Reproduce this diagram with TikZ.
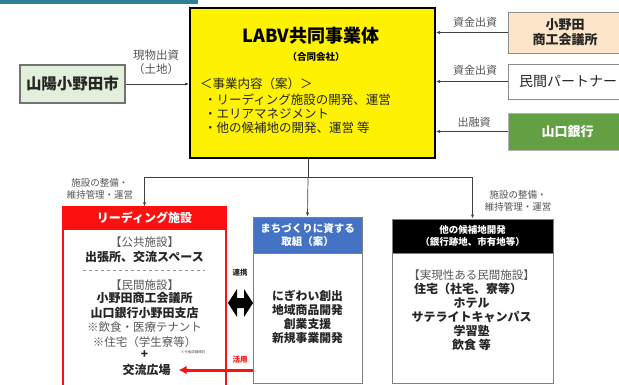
\documentclass[tikz,border=0pt]{standalone}
\usepackage{fontspec}
\setmainfont{Noto Sans CJK JP}
\usetikzlibrary{arrows.meta}
\definecolor{teal1}{HTML}{2E8097}
\definecolor{peach}{HTML}{FCE5C8}
\definecolor{bankgreen}{HTML}{62A043}
\definecolor{lgreen}{HTML}{E2EFDA}
\definecolor{hblue}{HTML}{4472C4}
\definecolor{hred}{HTML}{FF1010}
\definecolor{txt}{HTML}{262626}
\definecolor{lbltxt}{HTML}{555555}
\tikzset{
  box/.style={draw, rectangle, inner sep=0pt, align=center},
  conn/.style={draw=black!75, line width=0.7pt, -{Latex[length=4pt,width=3.2pt]}},
  lbl/.style={font=\fontsize{9.5}{12}\selectfont, text=lbltxt, align=center, inner sep=0pt},
  lblb/.style={font=\fontsize{11}{14}\selectfont, text=lbltxt, align=center, inner sep=0pt},
  tx/.style={inner sep=1pt, text=txt, align=center},
  bx/.style={tx, font=\fontsize{12}{14}\bfseries\selectfont},
  rg/.style={tx, font=\fontsize{11.5}{14}\selectfont, text=black!65},
}
\begin{document}
\begin{tikzpicture}[x=1pt,y=-1pt]
\useasboundingbox (0,0) rectangle (619,384);
\clip (0,0) rectangle (619,384);
\fill[white] (0,0) rectangle (619,384);
% top bar
\fill[teal1] (0,0) rectangle (198,4);

% main yellow box
\node[box, fill=yellow, line width=2pt, minimum width=245pt, minimum height=150pt] (labv) at (312.5,83) {};
\node[tx, font=\fontsize{18}{20}\bfseries\selectfont, text=black] (labvt) at (311,36) {LABV共同事業体};
\node[tx, font=\fontsize{9.5}{11}\bfseries\selectfont, text=black] (labvs) at (316,57) {（合同会社）};
\node[tx, anchor=west, font=\fontsize{12.5}{14}\selectfont] (labvh) at (199,84) {＜事業内容（案）＞};
\node[tx, anchor=north west, align=left, font=\fontsize{12.5}{14}\selectfont] (labvb) at (203,93) {・リーディング施設の開発、運営\\・エリアマネジメント\\・他の候補地の開発、運営 等};

% left city box
\node[box, fill=lgreen, draw=black!55, line width=1.2pt, minimum width=105pt, minimum height=38pt,
      font=\fontsize{15.5}{17}\bfseries\selectfont, text=txt] (city) at (72.5,84) {山陽小野田市};
\draw[conn] (city.east) -- (city.east -| labv.west);
\node[lblb, font=\fontsize{11.5}{14.5}\selectfont] (l1) at (156,62) {現物出資\\（土地）};

% right boxes
\node[box, fill=peach, draw=black!45, line width=1pt, minimum width=114pt, minimum height=41pt,
      font=\fontsize{13}{15}\bfseries\selectfont, text=txt] (cci) at (565,32.5) {小野田\\商工会議所};
\node[box, fill=white, draw=black!45, line width=1pt, minimum width=120pt, minimum height=35pt,
      font=\fontsize{14}{16}\selectfont, text=txt] (partner) at (568,81.5) {民間パートナー};
\node[box, fill=bankgreen, draw=black!30, line width=1pt, minimum width=119pt, minimum height=37pt,
      font=\fontsize{13}{15}\bfseries\selectfont, text=white] (bank) at (567.5,131.5) {山口銀行};
\draw[conn] (cci.west) -- (cci.west -| labv.east);
\draw[conn] (partner.west) -- (partner.west -| labv.east);
\draw[conn] (bank.west) -- (bank.west -| labv.east);
\node[lblb] (l2) at (475,22) {資金出資};
\node[lblb] (l3) at (475,70) {資金出資};
\node[lblb] (l4) at (474,122) {出融資};

% lower boxes
\node[box, draw=hred, line width=1.3pt, minimum width=163pt, minimum height=200pt] (lead) at (144.5,307) {};
\node[box, fill=hred, draw=hred, line width=1.3pt, minimum width=163pt, minimum height=22pt,
      font=\fontsize{12}{14}\bfseries\selectfont, text=white, anchor=north] (leadh) at (lead.north) {リーディング施設};

\node[box, draw=black!50, line width=1pt, minimum width=109pt, minimum height=166pt] (machi) at (307.5,300) {};
\node[box, fill=hblue, draw=black!50, line width=1pt, minimum width=109pt, minimum height=36pt,
      font=\fontsize{10.5}{12.5}\bfseries\selectfont, text=white, anchor=north] (machih) at (machi.north) {まちづくりに資する\\取組（案）};

\node[box, draw=black!50, line width=1pt, minimum width=161pt, minimum height=164pt] (other) at (472.5,301) {};
\node[box, fill=black, draw=black!50, line width=1pt, minimum width=161pt, minimum height=34pt,
      font=\fontsize{9.5}{12}\bfseries\selectfont, text=white, anchor=north] (otherh) at (other.north) {他の候補地開発\\（銀行跡地、市有地等）};

% tree connectors
\coordinate (j) at (308,177);
\draw[draw=black!75, line width=0.7pt] (labv.south -| j) -- (j);
\draw[conn] (j) -- (machi.north);
\draw[conn] (j) -| (lead.north);
\draw[conn] (j) -| (other.north);
\node[lbl] (l5) at (100,189) {施設の整備・\\維持管理・運営};
\node[lbl] (l6) at (518,201) {施設の整備・\\維持管理・運営};

% lead contents
\node[rg] (a1) at (144.5,242) {【公共施設】};
\node[bx] (a2) at (144.5,257) {出張所、交流スペース};
\draw[black!40, dashed, line width=0.6pt] (83,270) -- (205,270);
\node[rg] (a3) at (144.5,285) {【民間施設】};
\node[bx] (a4) at (144.5,298) {小野田商工会議所};
\node[bx] (a5) at (144.5,313) {山口銀行小野田支店};
\node[rg] (a6) at (144.5,327) {※飲食・医療テナント};
\node[rg] (a7) at (144.5,342) {※住宅（学生寮等）};
\node[bx] (a8) at (144.5,355) {+};
\node[tx, font=\fontsize{3.5}{4}\selectfont, text=black!70] (a9) at (193,352) {※今後詳細検討};
\node[bx] (koryu) at (146.5,370) {交流広場};

% machi contents
\node[bx, font=\fontsize{11.8}{14}\bfseries\selectfont] (b1) at (307.5,296) {にぎわい創出};
\node[bx, font=\fontsize{11.8}{14}\bfseries\selectfont] (b2) at (307.5,310) {地域商品開発};
\node[bx, font=\fontsize{11.8}{14}\bfseries\selectfont] (b3) at (307.5,324) {創業支援};
\node[bx, font=\fontsize{11.8}{14}\bfseries\selectfont] (b4) at (307.5,338) {新規事業開発};

% other contents
\node[rg] (c1) at (471.5,275) {【実現性ある民間施設】};
\node[bx] (c2) at (468,289) {住宅（社宅、寮等）};
\node[bx] (c3) at (471.5,303) {ホテル};
\node[bx] (c4) at (471.5,317) {サテライトキャンパス};
\node[bx] (c5) at (471.5,331) {学習塾};
\node[bx] (c6) at (471.5,345) {飲食 等};

% renkei double arrow
\fill[black] (228,303) -- (237,289) -- (237,298) -- (244,298) -- (244,289) -- (253,303)
  -- (244,317) -- (244,308) -- (237,308) -- (237,317) -- cycle;
\node[tx, font=\fontsize{7.5}{8}\bfseries\selectfont] (ren) at (240,273) {連携};

% katsuyo red arrow
\draw[hred, line width=3pt, -{Latex[length=8pt,width=9pt]}] (koryu.east -| machi.west) -- ([xshift=7pt]koryu.east);
\node[tx, font=\fontsize{7.5}{8}\bfseries\selectfont, text=hred] (kat) at (240,360) {活用};
\end{tikzpicture}
\end{document}
